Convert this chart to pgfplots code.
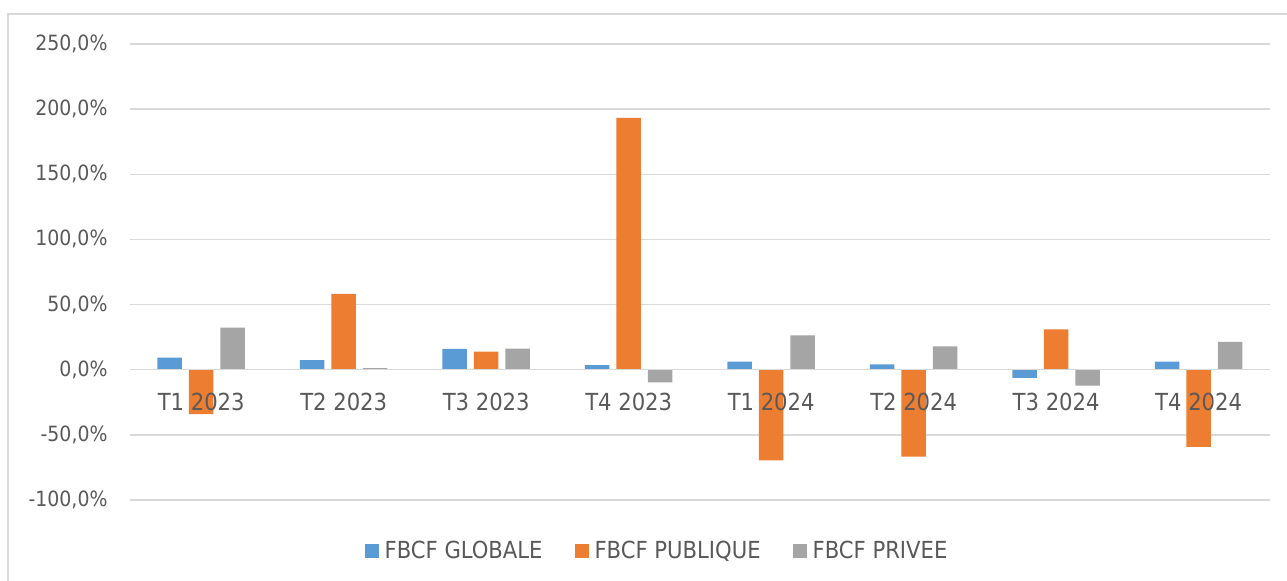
\documentclass[border=0pt]{standalone}
\usepackage{pgfplots}
\pgfplotsset{compat=1.18}
\usepackage{fontspec}
\setmainfont{DejaVu Sans Condensed}
\definecolor{cglob}{HTML}{5B9BD5}
\definecolor{cpub}{HTML}{ED7D31}
\definecolor{cpriv}{HTML}{A5A5A5}
\definecolor{txt}{HTML}{595959}
\definecolor{grd}{HTML}{D9D9D9}
\pgfplotsset{
  layers/labels on top/.define layer set={axis background,axis grid,axis ticks,pre main,main,axis lines,axis tick labels,axis descriptions,axis foreground}{/pgfplots/layers/standard},
}
\begin{document}
\begin{tikzpicture}
\begin{axis}[
  name=ax,
  set layers=labels on top,
  scale only axis,
  width=1140bp, height=456bp,
  ymin=-100, ymax=250,
  xmin=-0.5, xmax=7.5,
  axis x line=middle,
  axis y line=left,
  x axis line style={draw=grd, line width=1.3bp, -},
  y axis line style={draw=none},
  major tick length=0pt,
  ybar=7bp,
  bar width=24.5bp,
  xtick=data,
  xticklabels={T1 2023,T2 2023,T3 2023,T4 2023,T1 2024,T2 2024,T3 2024,T4 2024},
  xticklabel style={text=txt, yshift=-20bp, font=\fontsize{23.5bp}{27bp}\selectfont},
  ytick={-100,-50,0,50,100,150,200,250},
  yticklabels={{-100,0\%},{-50,0\%},{0,0\%},{50,0\%},{100,0\%},{150,0\%},{200,0\%},{250,0\%}},
  yticklabel style={text=txt, xshift=-19bp, font=\fontsize{21bp}{24bp}\selectfont},
  ymajorgrids,
  grid style={draw=grd, line width=1.3bp},
  clip=false,
  legend columns=3,
  legend style={draw=none, fill=none, at={(527bp,-51bp)}, anchor=center,
    font=\fontsize{23.5bp}{27bp}\selectfont, text=txt,
    /tikz/every even column/.append style={column sep=30bp}},
  legend image code/.code={\fill[#1] (0bp,-7bp) rectangle (14bp,7bp); \path (18bp,0bp);},
]
\addplot[fill=cglob, draw=none] coordinates {(0,9.2) (1,7.4) (2,15.9) (3,3.6) (4,6.2) (5,4.1) (6,-6.2) (7,6.2)};
\addplot[fill=cpub, draw=none] coordinates {(0,-34) (1,58.2) (2,13.8) (3,193.3) (4,-69.5) (5,-66.7) (6,31) (7,-59.2)};
\addplot[fill=cpriv, draw=none] coordinates {(0,32.3) (1,1.3) (2,16.2) (3,-9.7) (4,26.4) (5,17.9) (6,-12.3) (7,21.3)};
\legend{FBCF GLOBALE, FBCF PUBLIQUE, FBCF PRIVEE}
\end{axis}
\draw[grd, line width=1.3bp] ([shift={(-122bp,-90bp)}]ax.south west) rectangle ([shift={(1165bp,486bp)}]ax.south west);
\pgfresetboundingbox
\path[use as bounding box] ([shift={(-130bp,-81bp)}]ax.south west) rectangle ++(1287bp,581bp);
\end{tikzpicture}
\end{document}
